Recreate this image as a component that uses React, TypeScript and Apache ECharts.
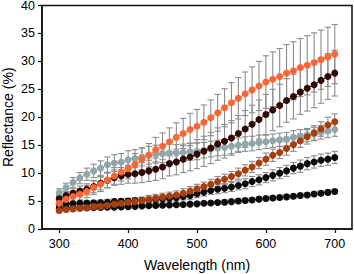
import React, { useEffect, useRef } from "react";
import * as echarts from "echarts";

const wavelengths = [300, 310, 320, 330, 340, 350, 360, 370, 380, 390, 400, 410, 420, 430, 440, 450, 460, 470, 480, 490, 500, 510, 520, 530, 540, 550, 560, 570, 580, 590, 600, 610, 620, 630, 640, 650, 660, 670, 680, 690, 700];

const orange = [4.6, 5.3, 5.8, 6.2, 6.7, 7.4, 8.0, 8.75, 9.5, 10.2, 10.8, 11.6, 12.5, 13.2, 14.2, 14.8, 15.6, 16.4, 17.1, 17.8, 18.4, 19.1, 19.9, 20.8, 21.7, 22.6, 23.4, 24.2, 24.9, 25.6, 26.3, 26.8, 27.3, 27.9, 28.3, 28.9, 29.3, 29.8, 30.3, 30.8, 31.3];
const orangeErr = [0.8, 0.9, 1.0, 1.0, 1.1, 1.2, 1.3, 1.4, 1.5, 1.6, 1.8, 1.9, 2.0, 2.1, 2.2, 2.4, 2.5, 2.6, 2.7, 2.9, 3.0, 3.1, 3.2, 3.3, 3.4, 3.6, 3.7, 3.9, 4.1, 4.4, 4.7, 4.9, 5.0, 5.1, 5.2, 5.2, 5.3, 5.3, 5.3, 5.3, 5.3];

const maroon = [5.4, 6.0, 6.4, 6.8, 7.1, 7.6, 8.2, 8.7, 9.2, 9.5, 9.8, 9.9, 10.1, 10.4, 10.7, 11.1, 11.7, 12.0, 12.5, 12.9, 13.4, 13.9, 14.5, 15.2, 15.7, 16.3, 17.1, 17.9, 18.75, 19.6, 20.5, 21.3, 22.1, 23.0, 23.7, 24.5, 25.2, 25.8, 26.6, 27.3, 27.9];
const maroonErr = [0.6, 0.7, 0.8, 0.9, 1.0, 1.1, 1.2, 1.3, 1.4, 1.5, 1.6, 1.7, 1.8, 1.9, 2.0, 2.1, 2.2, 2.3, 2.4, 2.5, 2.6, 2.7, 2.8, 2.9, 3.0, 3.1, 3.2, 3.3, 3.4, 3.5, 3.6, 3.7, 3.8, 3.9, 4.0, 4.0, 4.1, 4.1, 4.1, 4.1, 4.1];

const gray = [6.5, 7.4, 8.3, 9.1, 9.8, 10.4, 10.9, 11.5, 11.8, 12.0, 12.4, 12.6, 12.9, 13.2, 13.4, 13.5, 13.6, 13.6, 13.7, 13.8, 13.9, 14.1, 14.3, 14.5, 14.6, 14.8, 15.0, 15.2, 15.3, 15.5, 15.6, 15.8, 15.95, 16.1, 16.4, 16.6, 16.8, 17.0, 17.3, 17.55, 17.8];
const grayErr = [0.7, 0.8, 0.9, 1.0, 1.1, 1.2, 1.3, 1.4, 1.5, 1.5, 1.6, 1.6, 1.6, 1.6, 1.6, 1.6, 1.6, 1.5, 1.5, 1.5, 1.5, 1.4, 1.4, 1.4, 1.4, 1.3, 1.3, 1.3, 1.3, 1.3, 1.2, 1.2, 1.2, 1.2, 1.2, 1.2, 1.2, 1.2, 1.2, 1.2, 1.2];

const rust = [3.3, 3.5, 3.6, 3.75, 3.8, 4.0, 4.05, 4.2, 4.45, 4.6, 4.8, 4.9, 5.1, 5.3, 5.5, 5.7, 5.9, 6.1, 6.4, 6.8, 7.2, 7.6, 8.0, 8.5, 8.9, 9.4, 9.9, 10.5, 11.1, 11.8, 12.5, 13.2, 13.7, 14.4, 15.1, 15.8, 16.5, 17.2, 17.9, 18.6, 19.2];
const rustErr = [0.4, 0.4, 0.4, 0.5, 0.5, 0.5, 0.5, 0.5, 0.6, 0.6, 0.6, 0.6, 0.6, 0.7, 0.7, 0.7, 0.7, 0.7, 0.8, 0.8, 0.8, 0.8, 0.9, 0.9, 0.9, 0.9, 1.0, 1.0, 1.0, 1.0, 1.1, 1.1, 1.1, 1.2, 1.2, 1.2, 1.3, 1.3, 1.3, 1.4, 1.4];

const blackA = [4.4, 4.5, 4.55, 4.6, 4.65, 4.7, 4.75, 4.8, 4.9, 4.95, 5.0, 5.1, 5.15, 5.2, 5.3, 5.4, 5.5, 5.6, 5.8, 6.0, 6.3, 6.6, 6.9, 7.1, 7.3, 7.5, 7.8, 8.1, 8.5, 8.8, 9.2, 9.6, 10.0, 10.4, 10.9, 11.25, 11.7, 12.0, 12.3, 12.5, 12.8];
const blackAErr = [0.4, 0.4, 0.4, 0.4, 0.4, 0.4, 0.4, 0.5, 0.5, 0.5, 0.5, 0.5, 0.5, 0.5, 0.6, 0.6, 0.6, 0.6, 0.6, 0.7, 0.7, 0.7, 0.7, 0.8, 0.8, 0.8, 0.8, 0.9, 0.9, 0.9, 0.9, 1.0, 1.0, 1.0, 1.0, 1.1, 1.1, 1.1, 1.1, 1.1, 1.1];

const blackB = [3.7, 3.7, 3.75, 3.75, 3.8, 3.8, 3.85, 3.9, 3.9, 3.95, 4.0, 4.05, 4.1, 4.15, 4.2, 4.25, 4.3, 4.35, 4.4, 4.45, 4.5, 4.6, 4.65, 4.75, 4.8, 4.9, 5.0, 5.1, 5.2, 5.35, 5.45, 5.55, 5.65, 5.75, 5.85, 6.0, 6.1, 6.25, 6.4, 6.55, 6.7];
const blackBErr = [0.3, 0.3, 0.3, 0.3, 0.3, 0.3, 0.3, 0.3, 0.3, 0.3, 0.3, 0.3, 0.3, 0.3, 0.3, 0.3, 0.3, 0.3, 0.3, 0.3, 0.3, 0.3, 0.3, 0.3, 0.4, 0.4, 0.4, 0.4, 0.4, 0.4, 0.4, 0.4, 0.4, 0.4, 0.4, 0.4, 0.4, 0.4, 0.4, 0.4, 0.4];

const yTicks = [0, 5, 10, 15, 20, 25, 30, 35, 40];
const xTicks = [300, 400, 500, 600, 700];

const seriesDefs = [
  { name: "Gray", values: gray, err: grayErr, color: "#91a6ab" },
  { name: "Black B", values: blackB, err: blackBErr, color: "#0c0c0c" },
  { name: "Black A", values: blackA, err: blackAErr, color: "#0c0c0c" },
  { name: "Rust", values: rust, err: rustErr, color: "#a63e0f" },
  { name: "Maroon", values: maroon, err: maroonErr, color: "#300804" },
  { name: "Orange", values: orange, err: orangeErr, color: "#fb6634" },
];

function errorSeries(values: number[], err: number[], z: number) {
  return {
    type: "custom",
    z,
    silent: true,
    data: wavelengths.map((w, i) => [w, values[i], err[i]]),
    renderItem: (params: any, api: any) => {
      const x = api.value(0);
      const y = api.value(1);
      const e = api.value(2);
      const top = api.coord([x, y + e]);
      const bot = api.coord([x, y - e]);
      const cap = 3.2;
      const style = { stroke: "#8c8c8c", lineWidth: 1.1 };
      return {
        type: "group",
        children: [
          { type: "line", shape: { x1: top[0], y1: top[1], x2: bot[0], y2: bot[1] }, style },
          { type: "line", shape: { x1: top[0] - cap, y1: top[1], x2: top[0] + cap, y2: top[1] }, style },
          { type: "line", shape: { x1: bot[0] - cap, y1: bot[1], x2: bot[0] + cap, y2: bot[1] }, style },
        ],
      };
    },
  };
}

export default function App() {
  const ref = useRef<HTMLDivElement>(null);
  useEffect(() => {
    if (!ref.current) return;
    const chart = echarts.init(ref.current, undefined, { renderer: "svg" });
    const series: any[] = [];
    seriesDefs.forEach((s) => {
      series.push(errorSeries(s.values, s.err, 2));
    });
    seriesDefs.forEach((s, k) => {
      series.push({
        type: "line",
        name: s.name,
        z: 5 + k,
        data: wavelengths.map((w, i) => [w, s.values[i]]),
        symbol: "circle",
        symbolSize: 7,
        showSymbol: true,
        lineStyle: { color: s.color, width: 1 },
        itemStyle: { color: s.color },
        silent: true,
      });
    });
    chart.setOption({
      animation: false,
      backgroundColor: "#ffffff",
      grid: {
        left: 42,
        right: 2,
        top: 5.5,
        bottom: 45,
        containLabel: false,
        outerBoundsMode: "none",
        show: true,
        borderColor: "#111",
        borderWidth: 1.5,
      },
      xAxis: {
        type: "value",
        min: 275,
        max: 725,
        name: "Wavelength (nm)",
        nameLocation: "middle",
        nameGap: 29,
        nameMoveOverlap: false,
        nameTextStyle: { fontFamily: "Liberation Sans", fontSize: 14, color: "#000" },
        axisLine: { show: true, lineStyle: { color: "#111", width: 1.5 } },
        axisTick: { show: true, inside: false, length: 4, lineStyle: { color: "#111", width: 1.2 }, customValues: xTicks },
        axisLabel: { fontFamily: "Liberation Sans", fontSize: 12.5, color: "#000", margin: 8, customValues: xTicks },
        splitLine: { show: false },
      },
      yAxis: {
        type: "value",
        min: 0,
        max: 40,
        interval: 5,
        name: "Reflectance (%)",
        nameLocation: "middle",
        nameGap: 27,
        nameMoveOverlap: false,
        nameTextStyle: { fontFamily: "Liberation Sans", fontSize: 14, color: "#000" },
        axisLine: { show: true, lineStyle: { color: "#111", width: 1.5 } },
        axisTick: { show: true, inside: false, length: 4, lineStyle: { color: "#111", width: 1.2 }, customValues: yTicks },
        axisLabel: { fontFamily: "Liberation Sans", fontSize: 12.5, color: "#000", margin: 7, customValues: yTicks },
        splitLine: { show: false },
      },
      series,
    });
    return () => chart.dispose();
  }, []);
  return (
    <div
      ref={ref}
      style={{ position: "fixed", left: 0, top: 0, width: 354, height: 274, background: "#fff" }}
    />
  );
}
